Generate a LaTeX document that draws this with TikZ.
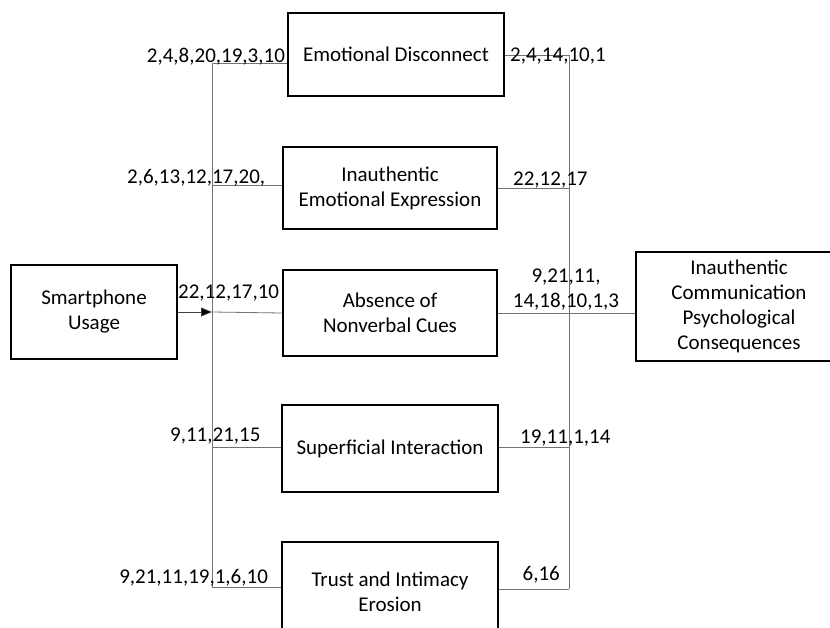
\documentclass[tikz,border=0pt]{standalone}
\usepackage{fontspec}
\setmainfont{Carlito}
\usetikzlibrary{arrows.meta}
\tikzset{
  box/.style={draw=black, line width=1.3pt, align=center, inner sep=0pt},
  wire/.style={draw=black!55, line width=0.8pt},
  num/.style={inner sep=0pt},
}
\begin{document}
\begin{tikzpicture}[x=1pt,y=-1pt,font=\fontsize{21}{25}\selectfont]
    \clip (0,0) rectangle (830,627);
    \fill[white] (0,0) rectangle (830,627);
    % boxes
    \node[box, minimum width=166pt, minimum height=94pt] (smart) at (94,312) {Smartphone\\Usage};
    \node[box, minimum width=216pt, minimum height=83pt] (disc) at (396,54.5) {Emotional Disconnect};
    \node[box, minimum width=214pt, minimum height=82pt] (expr) at (390,188) {Inauthentic\\Emotional Expression};
    \node[box, minimum width=214pt, minimum height=86pt] (abs) at (390,313) {Absence of\\Nonverbal Cues};
    \node[box, minimum width=216pt, minimum height=87pt] (sup) at (390,448.5) {Superficial Interaction};
    \node[box, minimum width=216pt, minimum height=100pt] (trust) at (390,592) {Trust and Intimacy\\Erosion};
    \node[box, minimum width=206pt, minimum height=109pt] (cons) at (739,306.5) {Inauthentic\\Communication\\Psychological\\Consequences};
    % bus points
    \coordinate (l1) at (212,63);
    \coordinate (l2) at (212,185);
    \coordinate (l3) at (212,312);
    \coordinate (l4) at (212,447);
    \coordinate (l5) at (212,587);
    \coordinate (r1) at (569,55);
    \coordinate (r2) at (569,188);
    \coordinate (r4) at (569,447);
    \coordinate (r5) at (569,589);
    % connectors
    \draw[wire] (l1) -- (l5);                 % left bus
    \draw[wire] (r1) -- (r5);                 % right bus
    \draw[wire] (l1) -- (l1 -| disc.west);    % bus -- disc
    \draw[wire] (l2) -- (l2 -| expr.west);    % bus -- expr
    \draw[wire] (l3) -- (abs.west);           % bus -- abs
    \draw[wire] (l4) -- (l4 -| sup.west);     % bus -- sup
    \draw[wire] (l5) -- (l5 -| trust.west);   % bus -- trust
    \draw[wire] (r1 -| disc.east) -- (r1);    % disc -- bus
    \draw[wire] (r2 -| expr.east) -- (r2);    % expr -- bus
    \draw[wire] (abs.east) -- (abs.east -| cons.west);  % abs -- cons
    \draw[wire] (r4 -| sup.east) -- (r4);     % sup -- bus
    \draw[wire] (r5 -| trust.east) -- (r5);   % trust -- bus
    \draw[black!75, line width=0.8pt, -{Triangle[length=11pt,width=9pt,fill=black]}] (smart.east) -- (l3);  % smart -- bus
    % labels
    \node[num, anchor=base east] (n1) at (285,62) {2,4,8,20,19,3,10};
    \node[num, anchor=base west] (m1) at (510,61) {2,4,14,10,1};
    \node[num, anchor=base west] (n2) at (127,183) {2,6,13,12,17,20,};
    \node[num, anchor=base west] (m2) at (513,185) {22,12,17};
    \node[num, anchor=base west] (n3) at (178,298) {22,12,17,10};
    \node[num, align=center] (m3) at (566,290) {9,21,11,\\14,18,10,1,3};
    \node[num, anchor=base west] (n4) at (170,441) {9,11,21,15};
    \node[num, anchor=base west] (m4) at (520,443) {19,11,1,14};
    \node[num, anchor=base east] (n5) at (268,583) {9,21,11,19,1,6,10};
    \node[num, anchor=base east] (m5) at (560,580) {6,16};
\end{tikzpicture}
\end{document}
